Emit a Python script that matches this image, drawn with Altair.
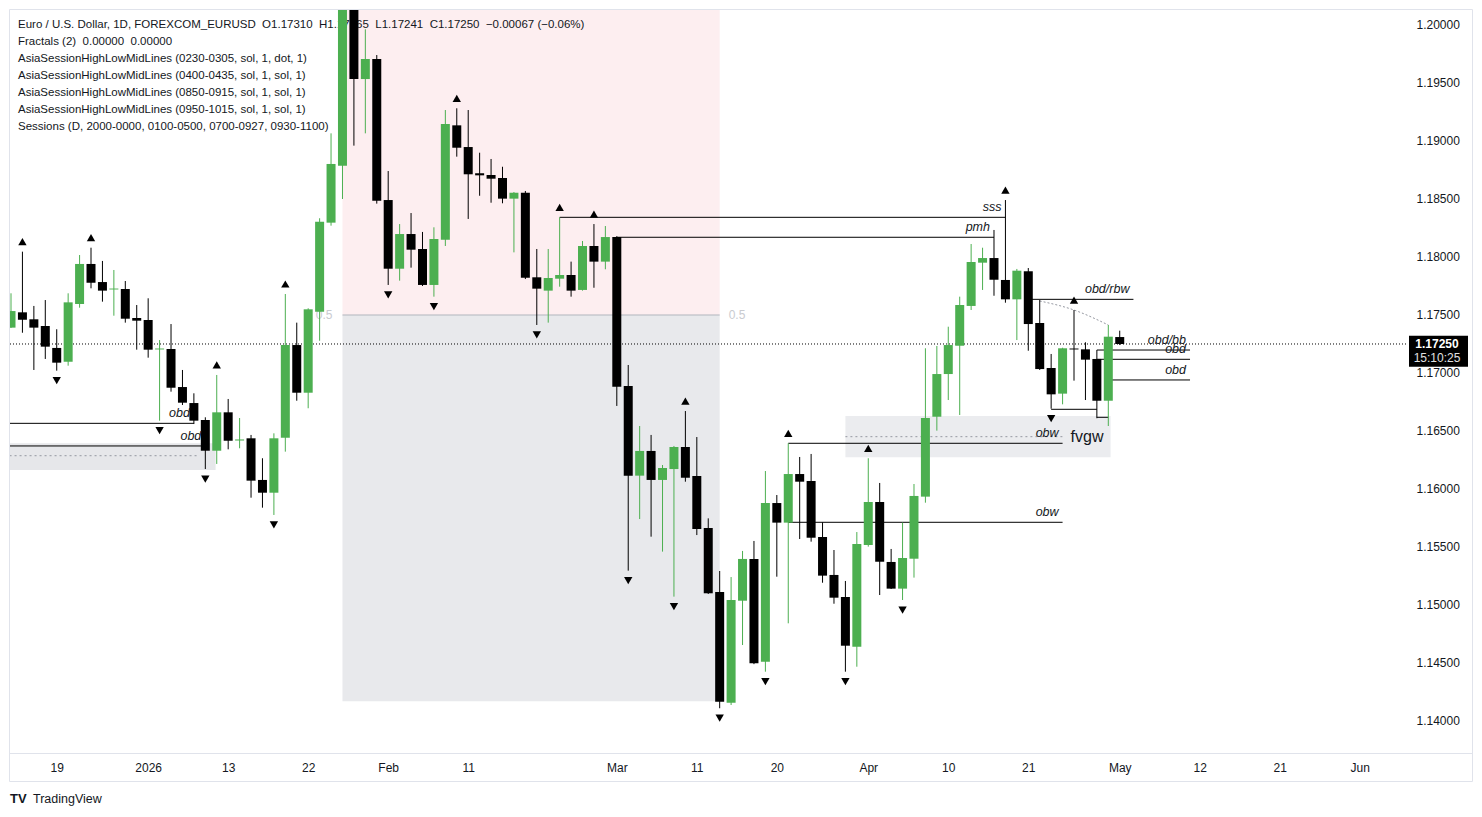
import altair as alt
import pandas as pd

# ---------------- data ----------------
dates = [
    "2025-12-15","2025-12-16","2025-12-17","2025-12-18","2025-12-19","2025-12-22","2025-12-23","2025-12-24",
    "2025-12-26","2025-12-29","2025-12-30","2025-12-31",
    "2026-01-02","2026-01-05","2026-01-06","2026-01-07","2026-01-08","2026-01-09","2026-01-12","2026-01-13",
    "2026-01-14","2026-01-15","2026-01-16","2026-01-19","2026-01-20","2026-01-21","2026-01-22","2026-01-23",
    "2026-01-26","2026-01-27","2026-01-28","2026-01-29","2026-01-30",
    "2026-02-02","2026-02-03","2026-02-04","2026-02-05","2026-02-06","2026-02-09","2026-02-10","2026-02-11",
    "2026-02-12","2026-02-13","2026-02-16","2026-02-17","2026-02-18","2026-02-19","2026-02-20","2026-02-23",
    "2026-02-24","2026-02-25","2026-02-26","2026-02-27",
    "2026-03-02","2026-03-03","2026-03-04","2026-03-05","2026-03-06","2026-03-09","2026-03-10","2026-03-11",
    "2026-03-12","2026-03-13","2026-03-16","2026-03-17","2026-03-18","2026-03-19","2026-03-20","2026-03-23",
    "2026-03-24","2026-03-25","2026-03-26","2026-03-27","2026-03-30","2026-03-31",
    "2026-04-01","2026-04-02","2026-04-03","2026-04-06","2026-04-07","2026-04-08","2026-04-09","2026-04-10",
    "2026-04-13","2026-04-14","2026-04-15","2026-04-16","2026-04-17","2026-04-20","2026-04-21","2026-04-22",
    "2026-04-23","2026-04-24","2026-04-27","2026-04-28","2026-04-29","2026-04-30",
    "2026-05-01",
]
opens = [
    1.17391,1.17523,1.17463,1.17405,1.17216,1.17097,1.17595,1.17940,1.17784,1.17720,1.17724,1.17474,
    1.17457,1.17203,1.17207,1.16879,1.16741,1.16595,1.16330,1.16661,1.16418,1.16437,1.16078,1.15968,
    1.16442,1.17241,1.16830,1.17528,1.18296,1.18787,1.20400,1.19534,1.19707,
    1.18491,1.17899,1.18198,1.18069,1.17759,1.18149,1.19135,1.18948,1.18722,1.18707,1.18681,1.18503,
    1.18554,1.17825,1.17710,1.17813,1.17845,1.17716,1.18095,1.17960,
    1.18172,1.16888,1.16115,1.16328,1.16078,1.16172,1.16362,1.16112,1.15664,1.15112,1.14158,1.15037,
    1.15397,1.14511,1.15879,1.15710,1.16129,1.16069,1.15586,1.15259,1.15069,1.14640,
    1.15517,1.15888,1.15371,1.15141,1.15399,1.15934,1.16623,1.16991,1.17235,1.17578,1.17951,1.17991,
    1.17802,1.17635,1.17877,1.17431,1.17043,1.16822,1.17211,1.17204,1.17121,1.16761,
    1.17310,
]
highs = [
    1.17687,1.18046,1.17578,1.17629,1.17377,1.17687,1.18017,1.18080,1.17966,1.17888,1.17793,1.17586,
    1.17644,1.17284,1.17422,1.17026,1.16825,1.16618,1.16983,1.16776,1.16612,1.16466,1.16265,1.16480,
    1.17681,1.17434,1.17558,1.18334,1.19066,1.20600,1.20830,1.19963,1.19741,
    1.18741,1.18284,1.18379,1.18216,1.18256,1.19267,1.19282,1.19267,1.18899,1.18845,1.18778,1.18560,
    1.18569,1.18069,1.18069,1.18342,1.17960,1.18138,1.18284,1.18267,
    1.18180,1.17069,1.16543,1.16466,1.16207,1.16371,1.16672,1.16448,1.15747,1.15293,1.15241,1.15466,
    1.15552,1.16155,1.15948,1.16394,1.16276,1.16302,1.15713,1.15474,1.15207,1.15629,
    1.16265,1.16052,1.15483,1.15710,1.16043,1.17213,1.17233,1.17399,1.17658,1.18112,1.18080,1.18233,
    1.18491,1.17897,1.17905,1.17629,1.17164,1.17218,1.17543,1.17265,1.17198,1.17414,
    1.17365,
]
lows = [
    1.17388,1.17347,1.17026,1.17121,1.17020,1.17063,1.17563,1.17730,1.17615,1.17494,1.17434,1.17201,
    1.17132,1.16589,1.16839,1.16724,1.16560,1.16172,1.16216,1.16342,1.16351,1.15925,1.15839,1.15776,
    1.16322,1.16761,1.16696,1.17278,1.18270,1.18500,1.18960,1.19066,1.18460,
    1.17759,1.17796,1.17908,1.17750,1.17658,1.18095,1.18865,1.18328,1.18528,1.18468,1.18463,1.18040,
    1.17810,1.17414,1.17434,1.17744,1.17658,1.17710,1.17735,1.17894,
    1.16716,1.15296,1.15741,1.15589,1.15460,1.15072,1.16063,1.15603,1.15095,1.14110,1.14138,1.14655,
    1.14490,1.14425,1.15244,1.14842,1.15569,1.15546,1.15192,1.15011,1.14425,1.14468,
    1.15503,1.15086,1.15138,1.15043,1.15236,1.15882,1.16503,1.16767,1.16638,1.17543,1.17716,1.17666,
    1.17606,1.17284,1.17192,1.17026,1.16692,1.16730,1.16934,1.16767,1.16610,1.16543,
    1.17241,
]
closes = [
    1.17534,1.17459,1.17391,1.17227,1.17089,1.17609,1.17940,1.17778,1.17710,1.17728,1.17468,1.17451,
    1.17201,1.17211,1.16873,1.16744,1.16589,1.16330,1.16661,1.16416,1.16427,1.16072,1.15968,1.16437,
    1.17241,1.16830,1.17549,1.18304,1.18802,1.20400,1.19534,1.19707,1.18485,
    1.17899,1.18198,1.18063,1.17759,1.18155,1.19147,1.18942,1.18713,1.18704,1.18675,1.18503,1.18554,
    1.17822,1.17727,1.17819,1.17845,1.17710,1.18095,1.17960,1.18172,
    1.16882,1.16115,1.16328,1.16078,1.16181,1.16362,1.16097,1.15655,1.15101,1.14166,1.15043,1.15397,
    1.14497,1.15879,1.15710,1.16129,1.16063,1.15580,1.15253,1.15063,1.14649,1.15526,
    1.15888,1.15373,1.15141,1.15405,1.15940,1.16612,1.16991,1.17241,1.17586,1.17957,1.17991,1.17804,
    1.17635,1.17882,1.17422,1.17034,1.16816,1.17213,1.17203,1.17115,1.16761,1.17313,
    1.17250,
]

fractal_up = ["2025-12-16","2025-12-24","2026-01-12","2026-01-20","2026-02-10","2026-02-23",
              "2026-02-26","2026-03-10","2026-03-23","2026-04-01","2026-04-17","2026-04-27"]
fractal_down = ["2025-12-19","2026-01-05","2026-01-09","2026-01-19","2026-02-02","2026-02-06",
                "2026-02-19","2026-03-03","2026-03-09","2026-03-13","2026-03-19","2026-03-30",
                "2026-04-06","2026-04-23"]

tick_dates = ["2025-12-19","2026-01-02","2026-01-13","2026-01-22","2026-02-02","2026-02-11","2026-03-02",
              "2026-03-11","2026-03-20","2026-04-01","2026-04-10","2026-04-21","2026-05-01","2026-05-12",
              "2026-05-21","2026-06-01"]
tick_labels = ["19","2026","13","22","Feb","11","Mar","11","20","Apr","10","21","May","12","21","Jun"]
price_ticks = ["1.14000","1.14500","1.15000","1.15500","1.16000","1.16500","1.17000",
               "1.17500","1.18000","1.18500","1.19000","1.19500","1.20000"]

# level lines (bar-index start, bar-index end, price, label)
lvl_start = [48, 53, 89, 95, 95, 96, 68, 68, -1, -1, 91, 95]
lvl_end = [87, 86, 98.2, 103.15, 103.15, 103.15, 92, 92, 16, 17, 95, 96]
lvl_price = [1.18342, 1.18170, 1.17635, 1.17198, 1.17118, 1.16940, 1.16394, 1.15713, 1.16566, 1.16371, 1.16687, 1.16618]
lvl_label = ["sss", "pmh", "obd/rbw", "obd/bb", "obd", "obd", "obw", "obw", "obd", "obd", "", ""]

# shaded zones (bar-index start, end, price low, high)
zone_start = [29, 29, 73, -1]
zone_end = [62, 62, 96.2, 17.9]
zone_lo = [1.17500, 1.14170, 1.16273, 1.16164]
zone_hi = [1.20830, 1.17500, 1.16629, 1.16394]
zone_col = ["#fdeef0", "#e8e9ec", "#ebecef", "#e6e7ea"]

# dotted zone midlines
mid_start = [73, -1]
mid_end = [92, 16.5]
mid_price = [1.16451, 1.16287]

# dotted curve
curve_idx = [90, 93, 96]
curve_price = [1.17621, 1.17543, 1.17414]

NB = "\u00a0"
header = [
    f"Euro / U.S. Dollar, 1D, FOREXCOM_EURUSD{NB*2}O1.17310{NB*2}H1.17365{NB*2}L1.17241{NB*2}C1.17250{NB*2}\u22120.00067 (\u22120.06%)",
    f"Fractals (2){NB*2}0.00000{NB*2}0.00000",
    "AsiaSessionHighLowMidLines (0230-0305, sol, 1, dot, 1)",
    "AsiaSessionHighLowMidLines (0400-0435, sol, 1, sol, 1)",
    "AsiaSessionHighLowMidLines (0850-0915, sol, 1, sol, 1)",
    "AsiaSessionHighLowMidLines (0950-1015, sol, 1, sol, 1)",
    "Sessions (D, 2000-0000, 0100-0500, 0700-0927, 0930-1100)",
]
last_price = 1.17250
countdown = "15:10:25"

# ---------------- build ----------------
FONT = "Liberation Sans"
TXT = "#131722"
GREEN = "#4caf50"
BLACK = "#000000"

all_days = list(dates) + [d.strftime("%Y-%m-%d") for d in pd.bdate_range("2026-05-04", "2026-06-30")]
pos = {d: k for k, d in enumerate(all_days)}

df = pd.DataFrame({"date": dates, "open": opens, "high": highs, "low": lows, "close": closes})
df["i"] = [pos[d] for d in dates]
df["dir"] = ["up" if c >= o else "down" for o, c in zip(opens, closes)]

W, H = 1398, 743
xs = alt.Scale(domain=[-0.0875, 122.22], nice=False, zero=False, padding=0)
ys = alt.Scale(domain=[1.137241, 1.201293], nice=False, zero=False, padding=0)

lab_expr = "''"
for d, l in reversed(list(zip(tick_dates, tick_labels))):
    lab_expr = f"datum.value == {pos[d]} ? '{l}' : ({lab_expr})"

xaxis = alt.Axis(values=[pos[d] for d in tick_dates], labelExpr=lab_expr, grid=False, domain=False,
                 ticks=False, labelPadding=9, labelFontSize=12, labelFont=FONT, labelColor=TXT,
                 title=None, labelFlush=False)
yaxis = alt.Axis(orient="right", values=[float(v) for v in price_ticks], format=".5f", grid=False,
                 domain=False, ticks=False, labelPadding=8, labelFontSize=12, labelFont=FONT,
                 labelColor=TXT, title=None, labelAlign="left", labelBaseline="middle")

def X(f):
    return alt.X(f, type="quantitative", scale=xs, axis=xaxis)

def Y(f):
    return alt.Y(f, type="quantitative", scale=ys, axis=yaxis)

one = pd.DataFrame({"a": [0]})

# zones
zdf = pd.DataFrame({"x1": zone_start, "x2": zone_end, "lo": zone_lo, "hi": zone_hi, "c": zone_col})
zones = alt.Chart(zdf).mark_rect(clip=True).encode(
    x=X("x1"), x2="x2", y=Y("lo"), y2="hi", color=alt.Color("c:N", scale=None))

half_line = alt.Chart(pd.DataFrame({"x1": [29], "x2": [62], "p": [1.175]})).mark_rule(
    color="#b2b5be", strokeWidth=1).encode(x=X("x1"), x2="x2", y=Y("p"))
half_l = alt.Chart(pd.DataFrame({"x": [29], "p": [1.175], "t": ["0.5"]})).mark_text(
    align="right", baseline="middle", dx=-10, fontSize=12, font=FONT, color="#c9cbd0").encode(
    x=X("x"), y=Y("p"), text="t:N")
half_r = alt.Chart(pd.DataFrame({"x": [62], "p": [1.175], "t": ["0.5"]})).mark_text(
    align="left", baseline="middle", dx=9, fontSize=12, font=FONT, color="#c9cbd0").encode(
    x=X("x"), y=Y("p"), text="t:N")

mids = alt.Chart(pd.DataFrame({"x1": mid_start, "x2": mid_end, "p": mid_price})).mark_rule(
    color="#9598a1", strokeDash=[2, 3], strokeWidth=1, clip=True).encode(x=X("x1"), x2="x2", y=Y("p"))

curve = alt.Chart(pd.DataFrame({"x": curve_idx, "p": curve_price})).mark_line(
    color="#9598a1", strokeDash=[2, 2], strokeWidth=1, interpolate="monotone").encode(x=X("x"), y=Y("p"))

ldf = pd.DataFrame({"x1": lvl_start, "x2": lvl_end, "p": lvl_price, "t": lvl_label})
levels = alt.Chart(ldf).mark_rule(color=BLACK, strokeWidth=1, clip=True).encode(
    x=X("x1"), x2="x2", y=Y("p"))
lvl_text = alt.Chart(ldf[ldf["t"] != ""]).mark_text(
    align="right", baseline="middle", dx=-4, dy=-10, fontSize=12.5, fontStyle="italic",
    font=FONT, color=TXT).encode(x=X("x2"), y=Y("p"), text="t:N")

fvg_text = alt.Chart(pd.DataFrame({"x": [92], "p": [1.16448], "t": ["fvgw"]})).mark_text(
    align="left", baseline="middle", dx=8, fontSize=16, font=FONT, color=TXT).encode(
    x=X("x"), y=Y("p"), text="t:N")

# current price dotted line
cur_line = alt.Chart(pd.DataFrame({"p": [last_price]})).mark_rule(
    color=BLACK, strokeDash=[1, 2], strokeWidth=1).encode(
    y=Y("p"), x=alt.value(0), x2=alt.value(W))

# header lines
heads = [
    alt.Chart(one).mark_text(align="left", baseline="middle", fontSize=11.5, font=FONT, color=TXT).encode(
        x=alt.value(8), y=alt.value(14.5 + 17 * k), text=alt.value(t))
    for k, t in enumerate(header)
]

color_enc = alt.Color("dir:N", scale=alt.Scale(domain=["up", "down"], range=[GREEN, BLACK]), legend=None)
wicks = alt.Chart(df).mark_rule(strokeWidth=1, clip=True).encode(
    x=X("i"), y=Y("low"), y2="high:Q", color=color_enc)
bodies = alt.Chart(df).mark_bar(size=9, clip=True).encode(
    x=X("i"), y=Y("open"), y2="close", color=color_enc)

fu = df[df["date"].isin(fractal_up)]
fd = df[df["date"].isin(fractal_down)]
up_pts = alt.Chart(fu).mark_point(shape="triangle-up", filled=True, color=BLACK, opacity=1,
                                   size=70, yOffset=-10).encode(x=X("i"), y=Y("high"))
dn_pts = alt.Chart(fd).mark_point(shape="triangle-down", filled=True, color=BLACK, opacity=1,
                                   size=70, yOffset=10).encode(x=X("i"), y=Y("low"))

# price box on right scale
box = alt.Chart(one).mark_rect(color="#000000").encode(
    x=alt.value(W + 1), x2=alt.value(W + 60), y=alt.value(325.7), y2=alt.value(356.7))
box_t1 = alt.Chart(pd.DataFrame({"p": [last_price], "t": [f"{last_price:.5f}"]})).mark_text(
    align="center", baseline="middle", fontSize=12, fontWeight="bold", font=FONT, color="white").encode(
    x=alt.value(W + 29), y=Y("p"), text="t:N")
box_t2 = alt.Chart(pd.DataFrame({"p": [last_price], "t": [countdown]})).mark_text(
    align="center", baseline="middle", dy=14, fontSize=12, font=FONT, color="#e0e0e0").encode(
    x=alt.value(W + 29), y=Y("p"), text="t:N")

# frame lines
FR = "#e0e3eb"
def hline(yv):
    return alt.Chart(one).mark_rule(color=FR, strokeWidth=1).encode(
        x=alt.value(-0.5), x2=alt.value(1462.5), y=alt.value(yv))
def vline(xv):
    return alt.Chart(one).mark_rule(color=FR, strokeWidth=1).encode(
        x=alt.value(xv), y=alt.value(-0.5), y2=alt.value(771.5))
frame = [hline(-0.5), hline(743.5), hline(771.5), vline(-0.5), vline(1462.5)]

logo = alt.Chart(one).mark_text(align="left", baseline="middle", fontSize=13, fontWeight="bold",
                                font=FONT, color=TXT).encode(
    x=alt.value(0), y=alt.value(789), text=alt.value("TV"))
brand = alt.Chart(one).mark_text(align="left", baseline="middle", fontSize=12.5, font=FONT,
                                 color=TXT).encode(
    x=alt.value(23), y=alt.value(789), text=alt.value("TradingView"))

chart = alt.layer(
    zones, half_line, half_l, half_r, mids, curve, *heads, cur_line, levels,
    wicks, bodies, up_pts, dn_pts, lvl_text, fvg_text, box, box_t1, box_t2,
    *frame, logo, brand,
).properties(
    width=W, height=H,
    padding={"left": 10, "top": 10, "right": 74, "bottom": 64},
    autosize=alt.AutoSizeParams(type="none"),
    background="white",
).configure_view(stroke=None)

chart.save("out.html", embed_options={"renderer": "svg", "actions": False})
